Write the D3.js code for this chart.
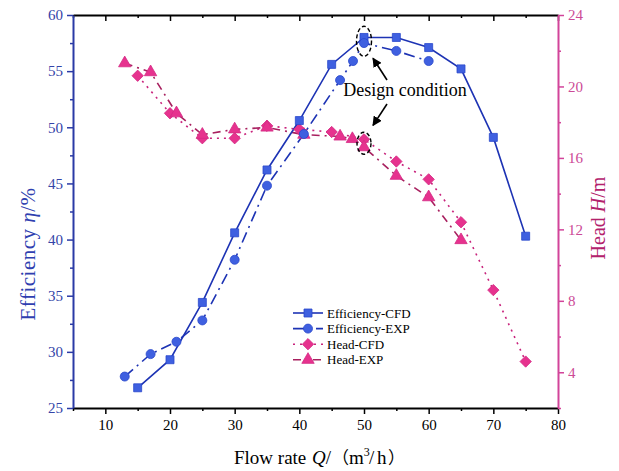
<!DOCTYPE html>
<html>
<head>
<meta charset="utf-8">
<script src="https://cdn.jsdelivr.net/npm/d3@7/dist/d3.min.js"></script>
<style>
  html, body { margin: 0; padding: 0; background: #fff; }
  svg { display: block; font-family: "Liberation Serif", "Times New Roman", serif; }
</style>
</head>
<body>
<svg id="chart" width="619" height="471"></svg>
<script>
// Flow rate (m3/h) for each series
const qCFD = [15, 20, 25, 30, 35, 40, 45, 50, 55, 60, 65, 70, 75];
const qEffEXP = [13, 17, 21, 25, 30, 35, 40.7, 46.3, 48.3, 50, 55, 60];
const qHeadEXP = [13, 17, 21, 25, 30, 35, 40.7, 46.3, 48.2, 50, 55, 60, 65];

// Efficiency (%)
const effCFD = [26.8, 29.3, 34.4, 40.6, 46.2, 50.6, 55.6, 58.0, 58.0, 57.1, 55.2, 49.1, 40.3];
const effEXP = [27.8, 29.8, 30.9, 32.8, 38.2, 44.8, 49.4, 54.2, 55.9, 57.5, 56.8, 55.9];

// Head (m)
const headCFD = [20.6, 18.5, 17.1, 17.1, 17.8, 17.6, 17.45, 17.04, 15.8, 14.8, 12.4, 8.6, 4.6];
const headEXP = [21.3, 20.8, 18.5, 17.3, 17.6, 17.7, 17.3, 17.2, 17.06, 16.6, 15.0, 13.8, 11.4];

// Axis ticks
const xTicks = [10, 20, 30, 40, 50, 60, 70, 80];
const xMinor = [5, 15, 25, 35, 45, 55, 65, 75];
const effTicks = [25, 30, 35, 40, 45, 50, 55, 60];
const effMinor = [27.5, 32.5, 37.5, 42.5, 47.5, 52.5, 57.5];
const headTicks = [4, 8, 12, 16, 20, 24];
const headMinor = [2, 6, 10, 14, 18, 22];

const legendLabels = ["Efficiency-CFD", "Efficiency-EXP", "Head-CFD", "Head-EXP"];

const svg = d3.select("#chart");
const L = 73, R = 558, T = 15, B = 408;

const x = d3.scaleLinear().domain([5, 80]).range([L, R]);
const yE = d3.scaleLinear().domain([25, 60]).range([B, T]);
const yH = d3.scaleLinear().domain([2, 24]).range([B, T]);

const BLUE_AXIS = "#2a3aa6";
const BLUE_TEXT = "#3444a8";
const BLUE_LINE = "#1d33b4";
const BLUE_FILL = "#3f60e0";
const PINK_AXIS = "#d2449a";
const PINK_TEXT = "#cc4a96";
const PINK_FILL = "#e6328e";
const PINK_LINE = "#c8237c";
const PINK_DARK = "#a8205f";

// ---- axes ----
function styleAxis(g, color, textColor) {
  g.select(".domain").attr("stroke", color).attr("stroke-width", 2);
  g.selectAll(".tick line").attr("stroke", color).attr("stroke-width", 1.5);
  g.selectAll(".tick text").attr("fill", textColor)
    .style("font-family", "'Liberation Serif', serif").style("font-size", "15px");
}

// bottom
const gx = svg.append("g").attr("transform", `translate(0,${B})`)
  .call(d3.axisBottom(x).tickValues(xTicks).tickSize(6).tickPadding(5).tickSizeOuter(0));
styleAxis(gx, "#000", "#000");
svg.append("g").attr("transform", `translate(0,${B})`)
  .call(d3.axisBottom(x).tickValues(xMinor).tickSize(3).tickFormat("").tickSizeOuter(0))
  .call(g => { g.select(".domain").remove(); g.selectAll("line").attr("stroke", "#000").attr("stroke-width", 1.5); });

// top (ticks inward)
const gt = svg.append("g").attr("transform", `translate(0,${T})`)
  .call(d3.axisTop(x).tickValues(xTicks).tickSize(-6).tickFormat("").tickSizeOuter(0));
gt.select(".domain").attr("stroke", "#000").attr("stroke-width", 2);
gt.selectAll("line").attr("stroke", "#000").attr("stroke-width", 1.5);
svg.append("g").attr("transform", `translate(0,${T})`)
  .call(d3.axisTop(x).tickValues(xMinor).tickSize(-3).tickFormat("").tickSizeOuter(0))
  .call(g => { g.select(".domain").remove(); g.selectAll("line").attr("stroke", "#000").attr("stroke-width", 1.5); });

// left
const gl = svg.append("g").attr("transform", `translate(${L},0)`)
  .call(d3.axisLeft(yE).tickValues(effTicks).tickSize(6).tickPadding(4).tickSizeOuter(0));
styleAxis(gl, BLUE_AXIS, BLUE_TEXT);
svg.append("g").attr("transform", `translate(${L},0)`)
  .call(d3.axisLeft(yE).tickValues(effMinor).tickSize(3).tickFormat("").tickSizeOuter(0))
  .call(g => { g.select(".domain").remove(); g.selectAll("line").attr("stroke", BLUE_AXIS).attr("stroke-width", 1.5); });

// right
const gr = svg.append("g").attr("transform", `translate(${R},0)`)
  .call(d3.axisRight(yH).tickValues(headTicks).tickSize(6).tickPadding(4).tickSizeOuter(0));
styleAxis(gr, PINK_AXIS, PINK_TEXT);
svg.append("g").attr("transform", `translate(${R},0)`)
  .call(d3.axisRight(yH).tickValues(headMinor).tickSize(3).tickFormat("").tickSizeOuter(0))
  .call(g => { g.select(".domain").remove(); g.selectAll("line").attr("stroke", PINK_AXIS).attr("stroke-width", 1.5); });

// ---- axis titles ----
const effTitle = svg.append("text")
  .attr("transform", "translate(35,254) rotate(-90)")
  .attr("text-anchor", "middle").attr("fill", "#2f3fb0")
  .style("font-size", "21px").style("letter-spacing", "0.5px");
effTitle.append("tspan").text("Efficiency ");
effTitle.append("tspan").attr("font-style", "italic").text("η");
effTitle.append("tspan").text("/%");

const headTitle = svg.append("text")
  .attr("transform", "translate(605,218) rotate(-90)")
  .attr("text-anchor", "middle").attr("fill", "#b3216c")
  .style("font-size", "20px");
headTitle.append("tspan").text("Head ");
headTitle.append("tspan").attr("font-style", "italic").text("H");
headTitle.append("tspan").text("/m");

// x title: "Flow rate  Q/（m³/h）" with full-width brackets
const xTitle = svg.append("text")
  .attr("x", 234).attr("y", 464)
  .attr("text-anchor", "start").attr("fill", "#000")
  .style("font-size", "19px");
xTitle.append("tspan").text("Flow rate");
xTitle.append("tspan").attr("x", 312).attr("font-style", "italic").text("Q");
xTitle.append("tspan").text("/");
xTitle.append("tspan").attr("x", 332).style("font-family", "'Noto Sans CJK SC'").style("font-size", "17px").text("（");
xTitle.append("tspan").attr("x", 349).text("m");
xTitle.append("tspan").attr("dy", -8).style("font-size", "12px").text("3");
xTitle.append("tspan").attr("x", 369).attr("dy", 8).text("/");
xTitle.append("tspan").attr("x", 377).text("h");
xTitle.append("tspan").attr("x", 388).style("font-family", "'Noto Sans CJK SC'").style("font-size", "17px").text("）");

// ---- series ----
const series = [
  { name: legendLabels[0], q: qCFD, v: effCFD, y: yE, stroke: BLUE_LINE, dash: null, marker: "square", fill: BLUE_FILL, mstroke: "#2a48cc" },
  { name: legendLabels[1], q: qEffEXP, v: effEXP, y: yE, stroke: BLUE_LINE, dash: "11,5,2,5", marker: "circle", fill: BLUE_FILL, mstroke: "#2a48cc" },
  { name: legendLabels[2], q: qCFD, v: headCFD, y: yH, stroke: PINK_LINE, dash: "2,5", marker: "diamond", fill: PINK_FILL, mstroke: "#d42a84" },
  { name: legendLabels[3], q: qHeadEXP, v: headEXP, y: yH, stroke: PINK_DARK, dash: "8,5,2,5", marker: "triangle", fill: PINK_FILL, mstroke: "#d42a84" }
];

const symbolFor = {
  square: d3.symbol().type(d3.symbolSquare).size(64),
  circle: d3.symbol().type(d3.symbolCircle).size(64),
  diamond: d3.symbol().type(d3.symbolSquare).size(64),
  triangle: d3.symbol().type(d3.symbolTriangle).size(66)
};
const rotFor = { square: 0, circle: 0, diamond: 45, triangle: 0 };

const plot = svg.append("g");
// head series underneath, efficiency on top
[2, 3, 0, 1].forEach(i => {
  const s = series[i];
  const pts = s.q.map((q, j) => [q, s.v[j]]);
  const line = d3.line().x(d => x(d[0])).y(d => s.y(d[1]));
  plot.append("path").datum(pts).attr("d", line)
    .attr("fill", "none").attr("stroke", s.stroke).attr("stroke-width", 1.6)
    .attr("stroke-dasharray", s.dash);
});
[2, 3, 0, 1].forEach(i => {
  const s = series[i];
  const pts = s.q.map((q, j) => [q, s.v[j]]);
  plot.append("g").selectAll("path").data(pts).join("path")
    .attr("d", symbolFor[s.marker])
    .attr("transform", d => `translate(${x(d[0])},${s.y(d[1])}) rotate(${rotFor[s.marker]})`)
    .attr("fill", s.fill).attr("stroke", s.mstroke).attr("stroke-width", 0.8);
});

// ---- design condition annotation ----
const ann = svg.append("g");
ann.append("ellipse").attr("cx", x(50)).attr("cy", (yE(58.0) + yE(57.5)) / 2 + 1)
  .attr("rx", 7.5).attr("ry", 15)
  .attr("fill", "none").attr("stroke", "#000").attr("stroke-width", 1.4).attr("stroke-dasharray", "4,2.5");
ann.append("ellipse").attr("cx", x(50)).attr("cy", (yH(17.04) + yH(16.6)) / 2)
  .attr("rx", 7).attr("ry", 11)
  .attr("fill", "none").attr("stroke", "#000").attr("stroke-width", 1.4).attr("stroke-dasharray", "4,2.5");

svg.append("defs").append("marker")
  .attr("id", "arrowhead").attr("viewBox", "0 0 10 10").attr("refX", 9).attr("refY", 5)
  .attr("markerWidth", 6).attr("markerHeight", 6).attr("orient", "auto")
  .append("path").attr("d", "M0,0 L10,5 L0,10 z").attr("fill", "#000");

ann.append("line").attr("x1", 387).attr("y1", 80).attr("x2", x(50) + 9).attr("y2", yE(57.4) + 14)
  .attr("stroke", "#000").attr("stroke-width", 1.6).attr("marker-end", "url(#arrowhead)");
ann.append("line").attr("x1", 387).attr("y1", 104).attr("x2", x(50) + 9).attr("y2", yH(17.04) - 14)
  .attr("stroke", "#000").attr("stroke-width", 1.6).attr("marker-end", "url(#arrowhead)");

ann.append("text").attr("x", 405).attr("y", 96).attr("text-anchor", "middle")
  .attr("fill", "#000").style("font-size", "18px").text("Design condition");

// ---- legend ----
const legendDash = [null, "11,5,2,5", "2,5", "8,5,2,5"];
const leg = svg.append("g").attr("transform", "translate(293,313)");
series.forEach((s, i) => {
  const row = leg.append("g").attr("transform", `translate(0,${i * 15.6})`);
  row.append("line").attr("x1", 0).attr("x2", 30).attr("y1", 0).attr("y2", 0)
    .attr("stroke", s.stroke).attr("stroke-width", 1.6)
    .attr("stroke-dasharray", legendDash[i]);
  row.append("path").attr("d", symbolFor[s.marker])
    .attr("transform", `translate(15,0) rotate(${rotFor[s.marker]})`)
    .attr("fill", s.fill).attr("stroke", s.mstroke).attr("stroke-width", 0.8);
  row.append("text").attr("x", 34).attr("y", 4.5)
    .attr("fill", "#000").style("font-size", "13px").text(s.name);
});
</script>
</body>
</html>
